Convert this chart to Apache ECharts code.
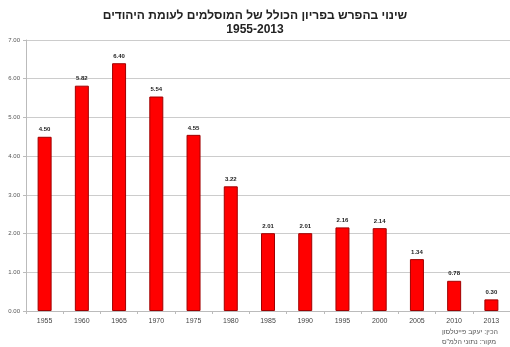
<!DOCTYPE html>
<html><head><meta charset="utf-8">
<script src="https://cdn.jsdelivr.net/npm/echarts@6/dist/echarts.min.js"></script>
<style>html,body{margin:0;padding:0;background:#fff}#c{width:510px;height:347px}</style>
</head><body><div id="c"></div>
<script>
// Yearly categories and the gap in total fertility (Muslim vs. Jewish)
const years = ['1955','1960','1965','1970','1975','1980','1985','1990','1995','2000','2005','2010','2013'];
const gapValues = [4.50, 5.82, 6.40, 5.54, 4.55, 3.22, 2.01, 2.01, 2.16, 2.14, 1.34, 0.78, 0.30];
const yTicks = [0, 1, 2, 3, 4, 5, 6, 7];

const chart = echarts.init(document.getElementById('c'), null, {renderer: 'canvas'});
chart.setOption({
  animation: false,
  backgroundColor: '#fff',
  title: [{
    text: 'שינוי בהפרש בפריון הכולל של המוסלמים לעומת היהודים\n1955-2013',
    left: 'center', top: 4,
    textStyle: {fontFamily: 'Liberation Sans, Arial', fontWeight: 'bold', fontSize: 12, color: '#222', lineHeight: 14, align: 'center'}
  }, {
    text: 'הכין: יעקב פייטלסון\nמקור: נתוני הלמ"ס',
    right: 7, top: 322,
    textStyle: {fontFamily: 'Liberation Sans, Arial', fontWeight: 'normal', fontSize: 7, color: '#555', lineHeight: 10, align: 'right'}
  }],
  grid: {left: 26, right: 0, top: 40, bottom: 36},
  xAxis: {
    type: 'category', data: years,
    axisLine: {lineStyle: {color: '#bbb'}},
    axisTick: {show: true, alignWithLabel: false, length: 3, lineStyle: {color: '#bbb'}},
    axisLabel: {fontSize: 7, color: '#444', margin: 7, fontFamily: 'Liberation Sans, Arial'}
  },
  yAxis: {
    type: 'value', min: 0, max: 7, interval: 1,
    axisLine: {show: true, lineStyle: {color: '#bbb'}},
    axisTick: {show: true, length: 3, lineStyle: {color: '#bbb'}},
    splitLine: {lineStyle: {color: '#ccc'}},
    axisLabel: {fontSize: 6, color: '#555', margin: 6, fontFamily: 'Liberation Sans, Arial',
      formatter: v => yTicks.includes(v) ? v.toFixed(2) : ''}
  },
  series: [{
    type: 'bar', data: gapValues, barWidth: 14,
    itemStyle: {color: '#ff0000', borderColor: '#a00000', borderWidth: 1},
    label: {show: true, position: 'top', distance: 4, fontSize: 6, fontWeight: 'bold', color: '#222',
      fontFamily: 'Liberation Sans, Arial', formatter: p => p.value.toFixed(2)}
  }]
});
</script></body></html>
